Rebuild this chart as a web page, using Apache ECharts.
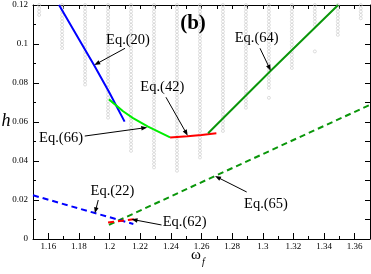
<!DOCTYPE html>
<html>
<head>
<meta charset="utf-8">
<script src="https://cdn.jsdelivr.net/npm/echarts@6/dist/echarts.min.js"></script>
<style>html,body{margin:0;padding:0;background:#fff}#c{width:371px;height:274px}</style>
</head>
<body>
<div id="c"></div>
<script>
// ---- data ----
const xLabelTicks = [1.16,1.18,1.2,1.22,1.24,1.26,1.28,1.3,1.32,1.34,1.36];
const xMinorTicks = [1.15,1.17,1.19,1.21,1.23,1.25,1.27,1.29,1.31,1.33,1.35,1.37];
const xTopTicks = [1.15,1.16,1.17,1.18,1.19,1.2,1.21,1.22,1.23,1.24,1.25,1.26,1.27,1.28,1.29,1.3,1.31,1.32,1.33,1.34,1.35,1.36,1.37];

// Eq.(20) blue solid
const eq20 = [[1.1670,0.1200],[1.1800,0.1024],[1.1900,0.0890],[1.2000,0.0749],[1.2098,0.0602]];
// Eq.(66) light green
const eq66 = [[1.1996,0.0716],[1.2088,0.0655],[1.2153,0.0620],[1.2251,0.0576],[1.2395,0.0521]];
// Eq.(42) red
const eq42 = [[1.2395,0.0521],[1.2508,0.0527],[1.2600,0.0533],[1.2697,0.0542]];
// Eq.(64) dark green
const eq64 = [[1.2643,0.0542],[1.3052,0.0863],[1.3492,0.1200]];
// Eq.(65) dark green dashed
const eq65 = [[1.1996,0.0072],[1.2688,0.0323],[1.3700,0.0688]];
// Eq.(22) blue dashed
const eq22 = [[1.1500,0.0224],[1.1904,0.0133],[1.2155,0.0077]];
// Eq.(62) red dashed
const eq62 = [[1.1990,0.0085],[1.2160,0.0102]];

// background simulation grid (gray circles)
const hGrid = [0.1200,0.1183,0.1166,0.1149,0.1132,0.1115,0.1098,0.1081,0.1064,0.1047,0.1030,0.1013,0.0996,0.0979,0.0962,0.0945,0.0928,0.0911,0.0894,0.0877,0.0860,0.0843,0.0826,0.0809,0.0792,0.0775,0.0758,0.0741,0.0724,0.0707,0.0690,0.0673,0.0656,0.0639,0.0622,0.0605,0.0588,0.0571,0.0554,0.0537,0.0520,0.0503,0.0486,0.0469,0.0452,0.0435,0.0418,0.0401,0.0384,0.0367,0.0350];
const colX   = [1.154,1.169,1.184,1.199,1.214,1.229,1.244,1.259,1.274,1.289,1.304,1.319,1.334,1.349,1.364];
const colLow = [0.1149,0.0979,0.0792,0.0622,0.0452,0.0367,0.0350,0.0418,0.0554,0.0673,0.0775,0.0877,0.1098,0.1047,0.1132];
const extraPts = [[1.304,0.0724],[1.334,0.0962]];

// annotations
const annText = ['Eq.(20)','Eq.(42)','Eq.(64)','Eq.(66)','Eq.(22)','Eq.(62)','Eq.(65)'];
const annTextPos = [[1.2120,0.1021],[1.2344,0.0777],[1.2960,0.1031],[1.1683,0.0518],[1.2019,0.0246],[1.2490,0.0085],[1.3021,0.0177]];
const annTail = [[1.2101,0.0978],[1.2368,0.0727],[1.2982,0.0978],[1.1838,0.0528],[1.1926,0.0200],[1.2339,0.0072],[1.2895,0.0241]];
const annHead = [[1.1900,0.0892],[1.2510,0.0530],[1.3052,0.0863],[1.2246,0.0572],[1.1904,0.0132],[1.2143,0.0101],[1.2688,0.0323]];

// ---- build ----
const grid = [];
colX.forEach((x,i)=>{ hGrid.forEach(h=>{ if(h>=colLow[i]-1e-9) grid.push([x,h]); }); });
extraPts.forEach(p=>grid.push(p));

const serif = 'Liberation Serif, Times New Roman, serif';
const chart = echarts.init(document.getElementById('c'), null, {renderer:'canvas'});
function ln(data, color, width, dashed){
  return {type:'line', data, showSymbol:false, symbol:'none', smooth:false, z:3,
    lineStyle:{color, width, type: dashed ? [6,4] : 'solid'}, animation:false};
}
chart.setOption({
  animation:false,
  grid:{left:33, right:1, top:5, bottom:35},
  xAxis:[
    {type:'value', min:1.15, max:1.37, position:'bottom', splitLine:{show:false},
     axisLine:{lineStyle:{color:'#000',width:1}},
     axisTick:{inside:true, length:6, customValues:xLabelTicks, lineStyle:{color:'#000'}},
     axisLabel:{customValues:xLabelTicks, margin:3, color:'#000', fontFamily:serif, fontSize:9,
       formatter:v=>String(+v.toFixed(2))}},
    {type:'value', min:1.15, max:1.37, position:'bottom', splitLine:{show:false},
     axisLine:{show:false}, axisLabel:{show:false},
     axisTick:{inside:true, length:3, customValues:xMinorTicks, lineStyle:{color:'#000'}}},
    {type:'value', min:1.15, max:1.37, position:'top', splitLine:{show:false},
     axisLine:{lineStyle:{color:'#000',width:1}}, axisLabel:{show:false},
     axisTick:{inside:true, length:4, customValues:xTopTicks, lineStyle:{color:'#000'}}}
  ],
  yAxis:[
    {type:'value', min:0, max:0.12, interval:0.02, position:'left', splitLine:{show:false},
     axisLine:{lineStyle:{color:'#000',width:1}},
     axisTick:{inside:true, length:6, lineStyle:{color:'#000'}},
     minorTick:{show:true, splitNumber:2, length:3, lineStyle:{color:'#000'}},
     axisLabel:{margin:5, color:'#000', fontFamily:serif, fontSize:9}},
    {type:'value', min:0, max:0.12, interval:0.01, position:'right', splitLine:{show:false},
     axisLine:{lineStyle:{color:'#000',width:1}}, axisLabel:{show:false},
     axisTick:{inside:true, length:5, lineStyle:{color:'#000'}}}
  ],
  series:[
    {type:'scatter', data:grid, symbol:'circle', symbolSize:3, z:1, silent:true,
     itemStyle:{color:'rgba(255,255,255,0)', borderColor:'#cacaca', borderWidth:0.8}},
    ln(eq20,'#0000ff',2,false),
    ln(eq66,'#00ee00',2,false),
    ln(eq42,'#ff0000',2,false),
    ln(eq64,'#0a960a',2,false),
    ln(eq65,'#0a960a',2,true),
    ln(eq22,'#0000ff',2,true),
    ln(eq62,'#ff0000',2,true)
  ]
});

const els = [];
const P = p => chart.convertToPixel({gridIndex:0}, p);
annText.forEach((t,i)=>{
  const c = P(annTextPos[i]);
  els.push({type:'text', x:c[0], y:c[1], z:10, style:{text:t, fill:'#000', font:'14.5px '+serif, align:'center', verticalAlign:'middle'}});
  const a = P(annTail[i]), b = P(annHead[i]);
  const dx=b[0]-a[0], dy=b[1]-a[1], L=Math.hypot(dx,dy), ux=dx/L, uy=dy/L;
  const hl=6, hw=2.3;
  const bx=b[0]-ux*hl, by=b[1]-uy*hl;
  els.push({type:'line', z:10, shape:{x1:a[0],y1:a[1],x2:bx+ux*1,y2:by+uy*1}, style:{stroke:'#000', lineWidth:1}});
  els.push({type:'polygon', z:10, shape:{points:[[b[0],b[1]],[bx-uy*hw,by+ux*hw],[bx+uy*hw,by-ux*hw]]}, style:{fill:'#000'}});
});
els.push({type:'text', x:193, y:24, z:10, style:{text:'(b)', fill:'#000', font:'bold 21px '+serif, align:'center', verticalAlign:'middle'}});
els.push({type:'text', x:6, y:121, z:10, style:{text:'h', fill:'#000', font:'italic 18px '+serif, align:'center', verticalAlign:'middle'}});
els.push({type:'text', x:196, y:255, z:10, style:{text:'ω', fill:'#000', font:'15px '+serif, align:'center', verticalAlign:'middle'}});
els.push({type:'text', x:203.5, y:262.5, z:10, style:{text:'f', fill:'#000', font:'italic 10px '+serif, align:'center', verticalAlign:'middle'}});
chart.setOption({graphic:{elements:els}});
</script>
</body>
</html>
